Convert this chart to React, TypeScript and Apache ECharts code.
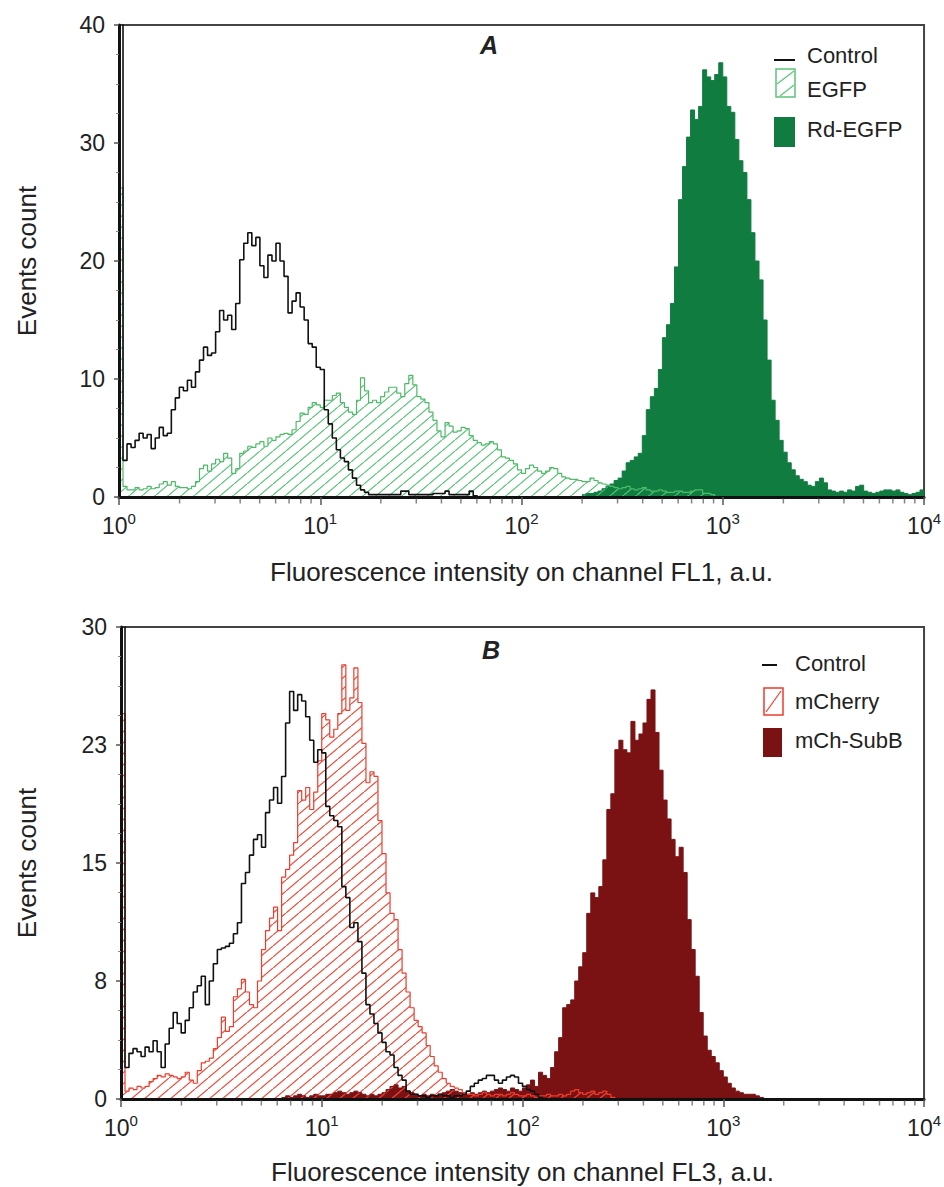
import React, { useEffect, useRef } from 'react';
import * as echarts from 'echarts';

// Channel bin edges (log scale, 50 bins per decade), 10^0 .. 10^4
const CHANNELS = [
  1, 1.047, 1.096, 1.148, 1.202, 1.259, 1.318, 1.38, 1.445, 1.514, 1.585, 1.66, 1.738, 1.82, 1.905, 1.995, 2.089, 2.188, 2.291, 2.399, 2.512, 2.63, 2.754, 2.884, 3.02, 3.162, 3.311, 3.467, 3.631, 3.802, 3.981, 4.169, 4.365, 4.571, 4.786, 5.012, 5.248, 5.495, 5.754, 6.026, 6.31, 6.607, 6.918, 7.244, 7.586, 7.943, 8.318, 8.71, 9.12, 9.55,
  10, 10.47, 10.96, 11.48, 12.02, 12.59, 13.18, 13.8, 14.45, 15.14, 15.85, 16.6, 17.38, 18.2, 19.05, 19.95, 20.89, 21.88, 22.91, 23.99, 25.12, 26.3, 27.54, 28.84, 30.2, 31.62, 33.11, 34.67, 36.31, 38.02, 39.81, 41.69, 43.65, 45.71, 47.86, 50.12, 52.48, 54.95, 57.54, 60.26, 63.1, 66.07, 69.18, 72.44, 75.86, 79.43, 83.18, 87.1, 91.2, 95.5,
  100, 104.7, 109.6, 114.8, 120.2, 125.9, 131.8, 138, 144.5, 151.4, 158.5, 166, 173.8, 182, 190.5, 199.5, 208.9, 218.8, 229.1, 239.9, 251.2, 263, 275.4, 288.4, 302, 316.2, 331.1, 346.7, 363.1, 380.2, 398.1, 416.9, 436.5, 457.1, 478.6, 501.2, 524.8, 549.5, 575.4, 602.6, 631, 660.7, 691.8, 724.4, 758.6, 794.3, 831.8, 871, 912, 955,
  1000, 1047, 1096, 1148, 1202, 1259, 1318, 1380, 1445, 1514, 1585, 1660, 1738, 1820, 1905, 1995, 2089, 2188, 2291, 2399, 2512, 2630, 2754, 2884, 3020, 3162, 3311, 3467, 3631, 3802, 3981, 4169, 4365, 4571, 4786, 5012, 5248, 5495, 5754, 6026, 6310, 6607, 6918, 7244, 7586, 7943, 8318, 8710, 9120, 9550,
  10000,
];

const MINOR_TICKS = [2, 3, 4, 5, 6, 7, 8, 9, 20, 30, 40, 50, 60, 70, 80, 90, 200, 300, 400, 500, 600, 700, 800, 900, 2000, 3000, 4000, 5000, 6000, 7000, 8000, 9000];
const MINOR_TICK_Y = MINOR_TICKS.map((t) => [t, 0]);

const X_NAME_A = 'Fluorescence intensity on channel FL1, a.u.';
const X_NAME_B = 'Fluorescence intensity on channel FL3, a.u.';
const Y_NAME = 'Events count';
const LEGEND_A = ['Control', 'EGFP', 'Rd-EGFP'];
const LEGEND_B = ['Control', 'mCherry', 'mCh-SubB'];

// Panel A – counts per channel, starting at the given channel index
const CONTROL_A_START = 0;
const CONTROL_A = [
  60, 3.1, 4.5, 4.2, 4.8, 5.4, 5.0, 5.3, 4.1, 5.0,
  5.9, 5.2, 5.4, 7.4, 8.4, 9.3, 9.0, 9.9, 9.3, 10.6,
  11.6, 12.7, 12.0, 12.2, 14.0, 15.8, 15.0, 15.4, 14.2, 16.4,
  20.1, 21.5, 22.4, 21.3, 22.0, 19.6, 18.6, 20.5, 20.0, 21.5,
  20.0, 18.7, 15.6, 16.6, 17.3, 16.1, 15.0, 13.0, 12.7, 11.0,
  10.8, 7.4, 6.2, 5.0, 4.0, 3.3, 3.0, 2.3, 1.6, 1.0,
  0.6, 0.4, 0.2, 0.2, 0.2, 0.2, 0.2, 0.2, 0.2, 0.2,
  0.5, 0.5, 0.2, 0.2, 0.2, 0.2, 0.2, 0.2, 0.3, 0.3,
  0.3, 0.5, 0.2, 0.2, 0.2, 0.2, 0.2, 0.5, 0.1, 0,
];

const EGFP_A_START = 0;
const EGFP_A = [
  26.2, 0.9, 0.6, 0.6, 0.8, 0.6, 0.7, 0.9, 0.7, 0.8,
  1.1, 1.3, 1.0, 1.3, 0.9, 0.8, 0.8, 0.7, 0.9, 1.3,
  2.4, 2.7, 2.2, 2.8, 3.2, 3.0, 3.7, 3.3, 2.0, 2.4,
  3.7, 3.9, 4.3, 4.2, 4.5, 4.7, 4.3, 5.0, 4.8, 5.1,
  5.3, 5.4, 5.3, 5.7, 6.4, 7.1, 7.0, 7.6, 8.0, 7.8,
  7.6, 8.2, 8.2, 8.6, 8.8, 8.0, 7.6, 7.2, 7.0, 8.2,
  10.1, 9.0, 8.0, 8.2, 8.0, 8.5, 8.9, 9.3, 9.3, 8.8,
  8.5, 9.6, 10.3, 9.5, 8.5, 8.3, 8.0, 7.2, 6.5, 5.6,
  5.1, 6.3, 6.0, 5.5, 5.6, 5.9, 5.8, 5.2, 4.8, 4.6,
  4.4, 4.5, 4.7, 4.5, 4.0, 3.4, 3.3, 3.1, 2.8, 2.3,
  2.0, 2.4, 2.7, 2.5, 2.2, 2.0, 2.2, 2.5, 2.4, 2.0,
  1.7, 1.6, 1.5, 1.5, 1.4, 1.3, 1.3, 1.6, 1.4, 1.2,
  1.1, 1.0, 0.9, 0.8, 0.7, 0.8, 0.9, 0.7, 0.6, 0.7,
  0.8, 0.6, 0.5, 0.5, 0.6, 0.5, 0.4, 0.4, 0.5, 0.5,
  0.4, 0.4, 0.5, 0.6, 0.6, 0.3, 0.3, 0.2, 0,
];

const RD_EGFP_A_START = 115;
const RD_EGFP_A = [
  0.2, 0.3, 0.3, 0.4, 0.5,
  0.7, 0.9, 1.1, 1.4, 1.6, 2.2, 2.9, 3.1, 3.4, 3.7,
  5.2, 7.4, 8.5, 9.2, 10.8, 13.5, 14.6, 16.4, 19.5, 25.2,
  28.0, 30.5, 32.8, 32.0, 33.1, 36.2, 35.6, 35.3, 35.8, 36.8,
  35.6, 33.1, 32.6, 30.3, 28.5, 27.5, 25.2, 22.4, 20.0, 18.4,
  15.0, 11.6, 8.2, 6.5, 4.8, 3.8, 2.9, 2.3, 1.8, 1.5,
  1.3, 1.0, 0.9, 1.3, 1.6, 1.2, 0.6, 0.5, 0.4, 0.5,
  0.4, 0.6, 0.5, 0.9, 1.0, 0.5, 0.4, 0.3, 0.4, 0.5,
  0.6, 0.6, 0.5, 0.6, 0.4, 0.3, 0.2, 0.3, 0.4, 0.6,
  0.6,
];

// Panel B
const CONTROL_B_START = 0;
const CONTROL_B = [
  60, 2.0, 2.9, 3.2, 3.0, 2.7, 3.3, 3.0, 3.7, 3.0,
  2.0, 3.5, 4.5, 5.5, 4.8, 4.2, 5.0, 5.8, 6.8, 7.2,
  7.8, 6.0, 7.5, 8.6, 9.5, 9.6, 9.7, 9.9, 10.5, 11.2,
  13.7, 14.4, 15.5, 16.5, 16.8, 16.0, 18.2, 19.0, 19.8, 18.8,
  20.5, 23.9, 25.9, 24.7, 25.7, 25.3, 24.3, 22.8, 21.4, 22.2,
  22.0, 18.6, 18.0, 17.7, 17.3, 13.5, 12.8, 10.9, 11.2, 10.0,
  8.0, 6.0, 5.4, 4.8, 4.2, 3.6, 3.0, 2.8, 2.0, 1.5,
  1.2, 0.5, 0.3, 0.3, 0.2, 0.2, 0.1, 0.2, 0.2, 0.3,
  0.2, 0.2, 0.1, 0.2, 0.2, 0.3, 0.5, 0.8, 1.0, 1.2,
  1.3, 1.5, 1.5, 1.2, 1.0, 1.2, 1.4, 1.5, 1.4, 1.0,
  0.8, 0.6, 0.5, 0.3, 0.1, 0,
];

const MCHERRY_B_START = 0;
const MCHERRY_B = [
  24.5, 0.5, 0.7, 0.6, 0.8, 0.7, 0.8, 1.1, 1.3, 1.5,
  1.4, 1.6, 1.5, 1.4, 1.3, 1.4, 1.7, 1.2, 1.0, 1.8,
  2.3, 2.4, 2.6, 3.2, 3.9, 5.2, 4.3, 4.6, 6.5, 7.0,
  7.6, 6.8, 6.0, 5.8, 7.5, 9.5, 10.7, 11.5, 12.2, 10.7,
  14.1, 14.6, 15.5, 16.3, 19.6, 19.0, 19.8, 18.4, 19.5, 21.5,
  24.5, 24.1, 23.0, 23.5, 24.5, 27.6, 24.7, 25.5, 27.4, 25.2,
  22.6, 20.1, 20.8, 20.5, 17.7, 15.6, 13.1, 11.8, 11.4, 9.5,
  8.0, 6.8, 5.8, 5.0, 4.6, 4.2, 3.4, 2.7, 2.1, 1.7,
  1.3, 1.0, 0.8, 0.7, 0.6, 0.4, 0.3, 0.3, 0.2, 0.3,
  0.4, 0.3, 0.2, 0.3, 0.3, 0.2, 0.3, 0.4, 0.3, 0.2,
  0.2, 0.3, 0.2, 0.1, 0.2, 0.2, 0.3, 0.2, 0.2, 0.3,
  0.2, 0.3, 0.5, 0.6, 0.4, 0.3, 0.4, 0.5, 0.3, 0.4,
  0.5, 0.3, 0.1, 0,
];

const SUBB_B_START = 40;
const SUBB_B = [
  0.1, 0.2, 0.1, 0.2, 0.3, 0.2, 0.1, 0.2, 0.3, 0.2,
  0.2, 0.3, 0.3, 0.4, 0.5, 0.4, 0.3, 0.4, 0.5, 0.4,
  0.3, 0.2, 0.3, 0.2, 0.3, 0.4, 0.6, 0.8, 0.9, 0.7,
  0.8, 0.5, 0.4, 0.3, 0.2, 0.3, 0.2, 0.3, 0.2, 0.3,
  0.4, 0.5, 0.6, 0.5, 0.4, 0.3, 0.3, 0.4, 0.3, 0.4,
  0.5, 0.4, 0.5, 0.6, 0.7, 0.6, 0.5, 0.7, 0.6, 0.5,
  0.7, 0.9, 1.2, 0.8, 1.7, 1.5, 1.3, 2.0, 3.0, 3.9,
  5.8, 6.0, 6.3, 7.5, 8.4, 9.3, 11.8, 13.1, 12.8, 13.5,
  15.2, 18.4, 19.4, 22.2, 22.8, 22.2, 22.0, 24.0, 22.8, 23.2,
  23.9, 25.4, 26.0, 23.3, 20.9, 19.0, 17.8, 16.5, 15.4, 16.0,
  14.4, 11.4, 9.5, 7.8, 5.5, 4.0, 3.1, 2.7, 2.3, 1.8,
  1.4, 1.0, 0.7, 0.5, 0.4, 0.3, 0.3, 0.3, 0.2, 0.1,
  0,
];

const FONT = "'Liberation Sans', Arial, Helvetica, sans-serif";
const TEXT = '#222';
const GREEN_LINE = '#4dba68';
const GREEN_FILL = '#107c40';
const RED_LINE = '#ef3b2c';
const RED_FILL = '#7a1214';

function toPairs(start: number, counts: number[]) {
  return counts.map((c, i) => [CHANNELS[start + i], c]);
}

function hatch(color: string) {
  const w = 13;
  const h = 11;
  const c = document.createElement('canvas');
  c.width = w;
  c.height = h;
  const ctx = c.getContext('2d');
  if (ctx) {
    ctx.strokeStyle = color;
    ctx.lineWidth = 1.2;
    ctx.beginPath();
    ctx.moveTo(-w, 2 * h);
    ctx.lineTo(2 * w, -h);
    ctx.stroke();
  }
  return { image: c, repeat: 'repeat', imageWidth: w, imageHeight: h } as any;
}

function xAxisOf(gridIndex: number, name: string, gap: number) {
  return {
    type: 'log',
    logBase: 10,
    gridIndex,
    min: 1,
    max: 10000,
    z: 5,
    name,
    nameLocation: 'middle',
    nameGap: gap,
    nameTextStyle: { fontSize: 26, color: TEXT, fontFamily: FONT },
    axisLine: { show: true, onZero: false, lineStyle: { color: '#111', width: 3 } },
    axisTick: { show: true, length: 8, lineStyle: { color: '#555', width: 1.5 } },
    minorTick: { show: false },
    splitLine: { show: false },
    axisLabel: {
      show: true,
      margin: 14,
      showMinLabel: true,
      showMaxLabel: true,
      formatter: (v: number) => `{b|10}{s|${Math.round(Math.log10(v))}}`,
      rich: {
        b: { fontSize: 23, color: TEXT, fontFamily: FONT, lineHeight: 30 },
        s: { fontSize: 15, color: TEXT, fontFamily: FONT, lineHeight: 15, verticalAlign: 'top' },
      },
    },
  };
}

function yAxisOf(gridIndex: number, max: number, interval: number, gap: number) {
  return {
    type: 'value',
    gridIndex,
    min: 0,
    max,
    interval,
    z: 5,
    name: Y_NAME,
    nameLocation: 'middle',
    nameGap: gap,
    nameRotate: 90,
    nameTextStyle: { fontSize: 26, color: TEXT, fontFamily: FONT },
    axisLine: { show: true, lineStyle: { color: '#111', width: 3 } },
    axisTick: { show: true, length: 5, lineStyle: { color: '#555', width: 1.5 } },
    minorTick: { show: true, splitNumber: 4, length: 3, lineStyle: { color: '#888', width: 1 } },
    splitLine: { show: false },
    axisLabel: {
      margin: 14,
      fontSize: 23,
      color: TEXT,
      fontFamily: FONT,
      formatter: (v: number) => String(Math.round(v)),
    },
  };
}

function lineSeries(name: string, xi: number, data: number[][], color: string, width: number, area?: any) {
  return {
    name,
    type: 'line',
    xAxisIndex: xi,
    yAxisIndex: xi,
    data,
    step: 'end',
    showSymbol: false,
    symbol: 'none',
    clip: true,
    silent: true,
    lineStyle: { color, width },
    areaStyle: area ? { color: area, opacity: 1, origin: 'start' } : undefined,
    z: 2,
  };
}

function minorTickSeries(xi: number) {
  return {
    type: 'scatter',
    xAxisIndex: xi,
    yAxisIndex: xi,
    data: MINOR_TICK_Y,
    symbol: 'rect',
    symbolSize: [1.5, 5],
    symbolOffset: [0, 4],
    itemStyle: { color: '#666' },
    clip: false,
    silent: true,
    z: 6,
  };
}

function legendText(text: string, x: number, y: number) {
  return {
    type: 'text',
    x,
    y,
    style: { text, fontSize: 22, fontFamily: FONT, fill: TEXT, verticalAlign: 'middle', align: 'left' },
  };
}

function panelTitle(text: string, x: number, y: number) {
  return {
    type: 'text',
    x,
    y,
    style: { text, fontSize: 25, fontWeight: 'bold', fontStyle: 'italic', fontFamily: FONT, fill: TEXT, align: 'center', verticalAlign: 'middle' },
  };
}

export default function App() {
  const ref = useRef<HTMLDivElement>(null);

  useEffect(() => {
    if (!ref.current) return;
    const chart = echarts.init(ref.current, undefined, { renderer: 'svg' });
    const greenHatch = hatch('#5cc27a');
    const redHatch = hatch('#f04a38');

    const option: any = {
      animation: false,
      backgroundColor: '#ffffff',
      grid: [
        { left: 119, top: 25, width: 806, height: 472, show: true, borderColor: '#444', borderWidth: 2, backgroundColor: 'transparent' },
        { left: 121, top: 627, width: 804, height: 472, show: true, borderColor: '#444', borderWidth: 2, backgroundColor: 'transparent' },
      ],
      xAxis: [xAxisOf(0, X_NAME_A, 62), xAxisOf(1, X_NAME_B, 60)],
      yAxis: [yAxisOf(0, 40, 10, 79), yAxisOf(1, 30, 7.5, 81)],
      series: [
        lineSeries(LEGEND_A[2], 0, toPairs(RD_EGFP_A_START, RD_EGFP_A), GREEN_FILL, 1, GREEN_FILL),
        lineSeries(LEGEND_A[1], 0, toPairs(EGFP_A_START, EGFP_A), GREEN_LINE, 1.2, greenHatch),
        lineSeries(LEGEND_A[0], 0, toPairs(CONTROL_A_START, CONTROL_A), '#111', 1.6),
        minorTickSeries(0),
        lineSeries(LEGEND_B[2], 1, toPairs(SUBB_B_START, SUBB_B), RED_FILL, 1, RED_FILL),
        lineSeries(LEGEND_B[1], 1, toPairs(MCHERRY_B_START, MCHERRY_B), RED_LINE, 1.2, redHatch),
        lineSeries(LEGEND_B[0], 1, toPairs(CONTROL_B_START, CONTROL_B), '#111', 1.6),
        minorTickSeries(1),
      ],
      graphic: [
        panelTitle('A', 489, 45),
        panelTitle('B', 491, 650),
        // Legend A
        { type: 'line', shape: { x1: 774, y1: 60, x2: 795, y2: 60 }, style: { stroke: '#111', lineWidth: 2 } },
        legendText(LEGEND_A[0], 807, 55),
        { type: 'rect', shape: { x: 776, y: 69, width: 19, height: 28 }, style: { fill: '#fff', stroke: '#5cc27a', lineWidth: 1.5 } },
        { type: 'line', shape: { x1: 777, y1: 84, x2: 794, y2: 71 }, style: { stroke: '#5cc27a', lineWidth: 1.2 } },
        { type: 'line', shape: { x1: 780, y1: 96, x2: 794, y2: 85 }, style: { stroke: '#5cc27a', lineWidth: 1.2 } },
        legendText(LEGEND_A[1], 807, 89),
        { type: 'rect', shape: { x: 774, y: 117, width: 21, height: 30 }, style: { fill: GREEN_FILL } },
        legendText(LEGEND_A[2], 807, 129),
        // Legend B
        { type: 'line', shape: { x1: 762, y1: 665, x2: 777, y2: 665 }, style: { stroke: '#111', lineWidth: 2 } },
        legendText(LEGEND_B[0], 795, 663),
        { type: 'rect', shape: { x: 764, y: 688, width: 19, height: 27 }, style: { fill: '#fff', stroke: RED_LINE, lineWidth: 1.5 } },
        { type: 'line', shape: { x1: 766, y1: 712, x2: 781, y2: 691 }, style: { stroke: RED_LINE, lineWidth: 1.2 } },
        legendText(LEGEND_B[1], 795, 701),
        { type: 'rect', shape: { x: 763, y: 728, width: 19, height: 29 }, style: { fill: RED_FILL } },
        legendText(LEGEND_B[2], 795, 740),
      ],
    };
    chart.setOption(option);
    return () => chart.dispose();
  }, []);

  return <div ref={ref} style={{ position: 'absolute', left: 0, top: 0, width: 944, height: 1187 }} />;
}
